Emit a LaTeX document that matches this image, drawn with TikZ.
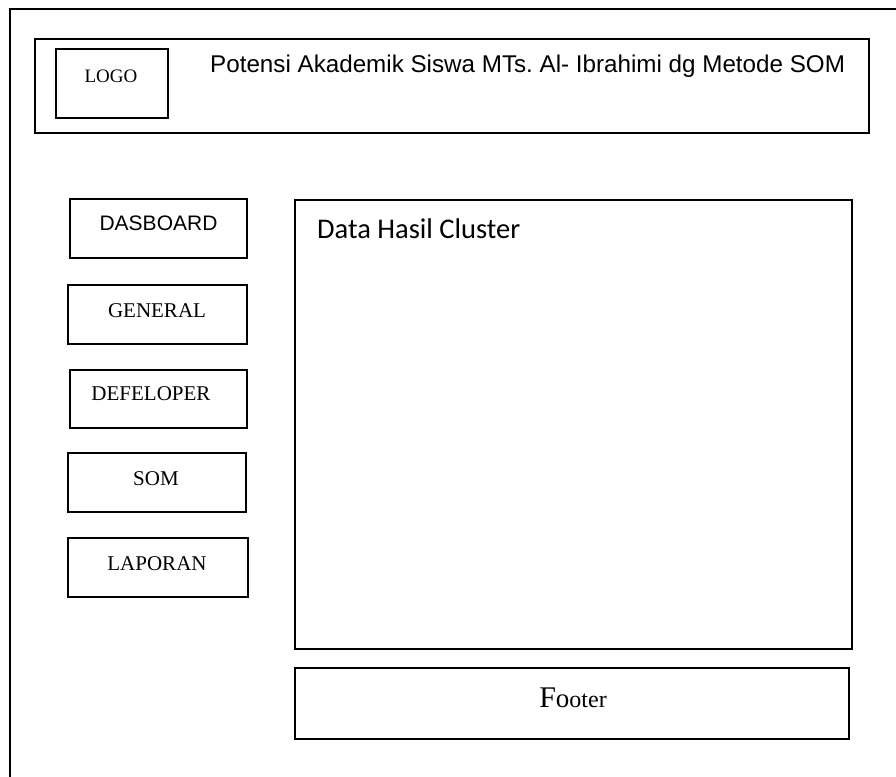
\documentclass[tikz,border=0pt]{standalone}
\usepackage{fontspec}
\setmainfont{Liberation Serif}
\newfontfamily\arialfont{Liberation Sans}
\newfontfamily\calfont{Carlito}
\frenchspacing
\begin{document}
\begin{tikzpicture}[x=1pt,y=-1pt,
  box/.style={draw=black,line width=1.6pt,rectangle,inner sep=0pt,outer sep=0pt},
  menutxt/.style={anchor=base,inner sep=0pt,font=\fontsize{21}{21}\selectfont},
  menusans/.style={anchor=base,inner sep=0pt,font=\arialfont\fontsize{21}{21}\selectfont}]
\useasboundingbox (0,0) rectangle (896,776);
% page frame (left and top edges only)
\coordinate (fbl) at (10,777);
\coordinate (ftl) at (10,9);
\coordinate (ftr) at (897,9);
\draw[line width=2.4pt] (fbl) -- (ftl) -- (ftr);

% header
\node[box,minimum width=834pt,minimum height=94pt] (header) at (452,86) {};
\node[box,minimum width=112pt,minimum height=69pt] (logo) at (112,83.5) {};
\node[anchor=base,inner sep=0pt,font=\fontsize{19}{19}\selectfont] (logotxt) at (111,82) {LOGO};
\node[anchor=base west,inner sep=0pt,font=\arialfont\fontsize{24.2}{24.2}\selectfont] (title) at (210,72)
  {Potensi Akademik Siswa MTs. Al- Ibrahimi dg Metode SOM};

% side menu
\node[box,minimum width=177pt,minimum height=59pt] (dash) at (158.5,228.5) {};
\node[menusans] (dashtxt) at (158.5,230) {DASBOARD};
\node[box,minimum width=179pt,minimum height=59pt] (gen) at (157.5,314.5) {};
\node[menutxt] (gentxt) at (157,317) {GENERAL};
\node[box,minimum width=177pt,minimum height=58pt] (dev) at (158.5,399) {};
\node[menutxt] (devtxt) at (151,400) {DEFELOPER};
\node[box,minimum width=178pt,minimum height=59pt] (som) at (157,482.5) {};
\node[menutxt] (somtxt) at (156,485) {SOM};
\node[box,minimum width=180pt,minimum height=59pt] (lap) at (158,567.5) {};
\node[menutxt] (laptxt) at (157,570) {LAPORAN};

% content area
\node[box,minimum width=557pt,minimum height=449pt] (content) at (573.5,424.5) {};
\node[anchor=base west,inner sep=0pt,font=\calfont\fontsize{28.5}{28.5}\selectfont] (contenttxt) at (317,238)
  {Data Hasil Cluster};

% footer
\node[box,minimum width=554pt,minimum height=71pt] (footer) at (572,703.5) {};
\node[anchor=base,inner sep=0pt] (footertxt) at (573,707)
  {{\fontsize{30}{30}\selectfont F}{\fontsize{27}{27}\selectfont o}{\fontsize{24}{24}\selectfont oter}};
\end{tikzpicture}
\end{document}
